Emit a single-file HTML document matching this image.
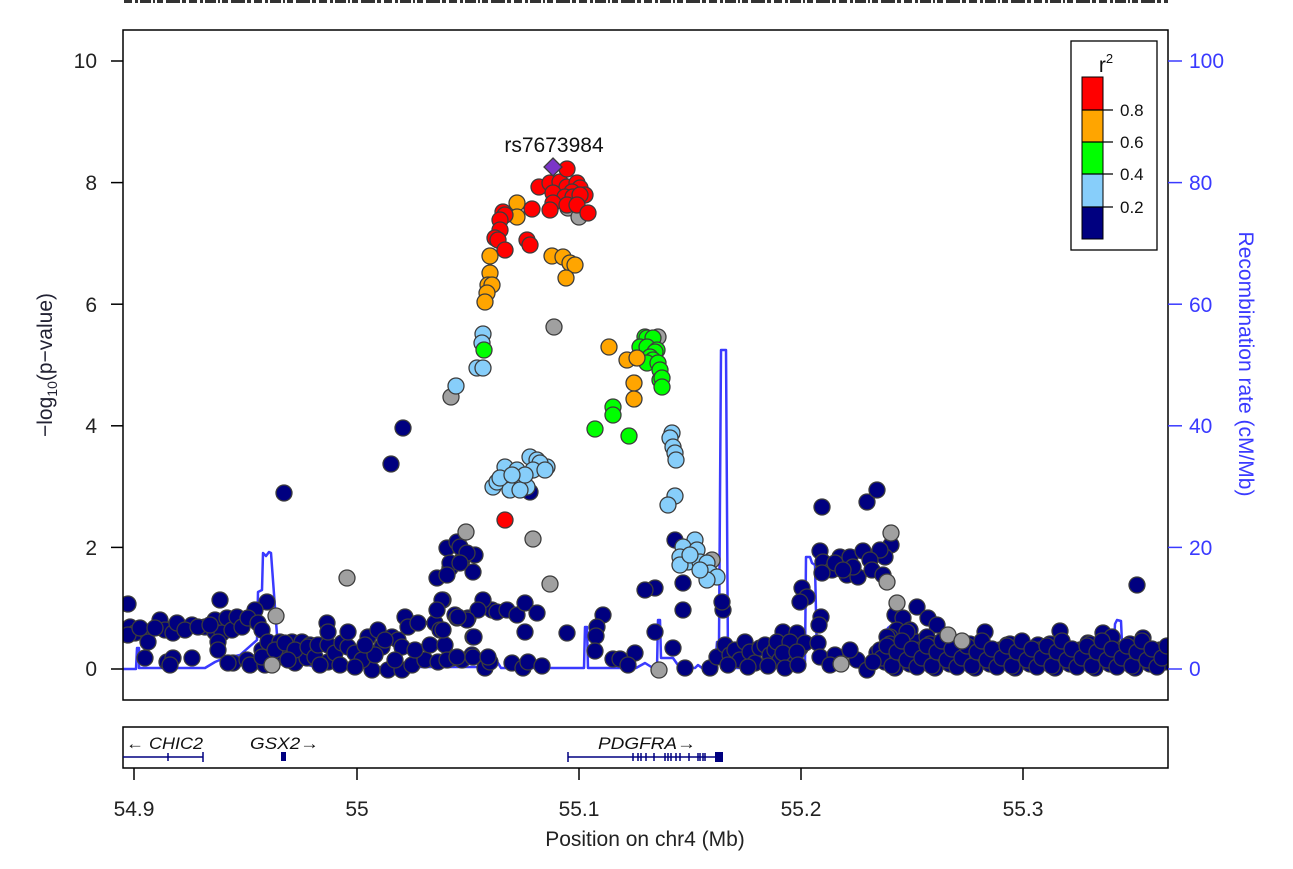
<!DOCTYPE html>
<html><head><meta charset="utf-8"><style>
html,body{margin:0;padding:0;background:#fff;}
svg{display:block;font-family:"Liberation Sans",Arial,sans-serif;}
</style></head><body>
<svg width="1293" height="869" viewBox="0 0 1293 869" xmlns="http://www.w3.org/2000/svg">
<rect width="1293" height="869" fill="#fff"/>
<!-- top garbled strip -->
<line x1="124" y1="1.5" x2="1168" y2="1.5" stroke="#333" stroke-width="3" stroke-dasharray="8 3 3 2 11 2 2 2 6 3 14 2 4 3"/>

<defs><clipPath id="pc"><rect x="123" y="30" width="1045" height="670"/></clipPath></defs>

<!-- recombination line -->
<polyline clip-path="url(#pc)" fill="none" stroke="#3a3aff" stroke-width="2.5" stroke-linejoin="round" points="123,669 136,669 137,648 139,648 139,668 205,668 215,662 222,659 240,655 257,640 258,592 262,590 263,553 266,556 269,552 271,553 277,635 290,642 305,664 315,667 480,667 490,663 498,663 501,668 584,668 585,627 587,627 588,668 636,668 645,663 653,668 657,668 658,620 660,620 661,658 673,658 680,668 695,668 698,665 702,668 715,668 717,642 719,642 721,350 726,350 728,665 733,668 800,668 805,662 806,557 810,557 812,563 815,565 817,660 830,662 868,660 877,648 888,628 893,624 897,640 905,660 930,665 1113,666 1115,624 1117,620 1121,621 1123,665 1168,667"/>

<g clip-path="url(#pc)" stroke="#3c3c3c" stroke-width="1.3">
<!-- navy -->
<g fill="#000080">
<circle cx="128" cy="604" r="8"/><circle cx="220" cy="600" r="8"/><circle cx="267" cy="602" r="8"/><circle cx="255" cy="610" r="8"/><circle cx="284" cy="493" r="8"/><circle cx="391" cy="464" r="8"/><circle cx="403" cy="428" r="8"/>
<circle cx="130" cy="627" r="8"/><circle cx="135" cy="633" r="8"/><circle cx="147" cy="632" r="8"/><circle cx="148" cy="642" r="8"/><circle cx="160" cy="620" r="8"/><circle cx="165" cy="630" r="8"/><circle cx="173" cy="633" r="8"/><circle cx="177" cy="623" r="8"/><circle cx="192" cy="625" r="8"/><circle cx="205" cy="627" r="8"/><circle cx="215" cy="620" r="8"/><circle cx="215" cy="632" r="8"/><circle cx="222" cy="633" r="8"/><circle cx="218" cy="642" r="8"/><circle cx="218" cy="650" r="8"/><circle cx="227" cy="618" r="8"/><circle cx="232" cy="630" r="8"/><circle cx="237" cy="617" r="8"/><circle cx="242" cy="627" r="8"/><circle cx="248" cy="618" r="8"/><circle cx="258" cy="623" r="8"/><circle cx="262" cy="630" r="8"/><circle cx="128" cy="635" r="8"/><circle cx="140" cy="628" r="8"/><circle cx="155" cy="628" r="8"/><circle cx="185" cy="630" r="8"/><circle cx="198" cy="627" r="8"/><circle cx="210" cy="625" r="8"/>
<circle cx="145" cy="658" r="8"/><circle cx="167" cy="662" r="8"/><circle cx="173" cy="658" r="8"/><circle cx="192" cy="658" r="8"/><circle cx="233" cy="663" r="8"/><circle cx="247" cy="660" r="8"/><circle cx="250" cy="665" r="8"/><circle cx="265" cy="665" r="8"/><circle cx="262" cy="650" r="8"/><circle cx="262" cy="657" r="8"/><circle cx="228" cy="663" r="8"/><circle cx="170" cy="665" r="8"/>
<circle cx="268" cy="642" r="8"/><circle cx="280" cy="642" r="8"/><circle cx="292" cy="642" r="8"/><circle cx="302" cy="642" r="8"/><circle cx="310" cy="645" r="8"/><circle cx="283" cy="657" r="8"/><circle cx="295" cy="663" r="8"/><circle cx="307" cy="658" r="8"/><circle cx="275" cy="650" r="8"/><circle cx="285" cy="643" r="8"/><circle cx="295" cy="650" r="8"/><circle cx="308" cy="647" r="8"/><circle cx="315" cy="657" r="8"/><circle cx="318" cy="645" r="8"/><circle cx="328" cy="645" r="8"/><circle cx="328" cy="662" r="8"/><circle cx="335" cy="653" r="8"/><circle cx="342" cy="643" r="8"/><circle cx="348" cy="647" r="8"/><circle cx="355" cy="653" r="8"/><circle cx="368" cy="637" r="8"/><circle cx="378" cy="630" r="8"/><circle cx="382" cy="647" r="8"/><circle cx="392" cy="637" r="8"/><circle cx="398" cy="640" r="8"/><circle cx="402" cy="647" r="8"/><circle cx="288" cy="660" r="8"/><circle cx="348" cy="632" r="8"/><circle cx="327" cy="623" r="8"/><circle cx="328" cy="632" r="8"/><circle cx="372" cy="670" r="8"/><circle cx="388" cy="670" r="8"/><circle cx="402" cy="670" r="8"/><circle cx="412" cy="665" r="8"/><circle cx="425" cy="660" r="8"/><circle cx="438" cy="662" r="8"/><circle cx="452" cy="658" r="8"/><circle cx="462" cy="660" r="8"/><circle cx="472" cy="655" r="8"/><circle cx="485" cy="660" r="8"/><circle cx="485" cy="668" r="8"/><circle cx="490" cy="662" r="8"/><circle cx="405" cy="617" r="8"/><circle cx="408" cy="627" r="8"/><circle cx="418" cy="623" r="8"/><circle cx="435" cy="623" r="8"/><circle cx="440" cy="630" r="8"/><circle cx="455" cy="615" r="8"/><circle cx="468" cy="618" r="8"/><circle cx="492" cy="610" r="8"/><circle cx="362" cy="660" r="8"/><circle cx="375" cy="655" r="8"/><circle cx="395" cy="660" r="8"/><circle cx="415" cy="650" r="8"/><circle cx="430" cy="645" r="8"/><circle cx="445" cy="645" r="8"/><circle cx="320" cy="665" r="8"/><circle cx="340" cy="665" r="8"/><circle cx="355" cy="667" r="8"/><circle cx="365" cy="645" r="8"/><circle cx="385" cy="640" r="8"/>
<circle cx="437" cy="578" r="8"/><circle cx="447" cy="548" r="8"/><circle cx="458" cy="542" r="8"/><circle cx="475" cy="555" r="8"/><circle cx="473" cy="572" r="8"/><circle cx="450" cy="568" r="8"/><circle cx="462" cy="560" r="8"/><circle cx="457" cy="542" r="8"/><circle cx="460" cy="547" r="8"/><circle cx="467" cy="553" r="8"/><circle cx="450" cy="563" r="8"/><circle cx="460" cy="563" r="8"/><circle cx="447" cy="575" r="8"/><circle cx="443" cy="600" r="8"/><circle cx="483" cy="600" r="8"/><circle cx="478" cy="610" r="8"/><circle cx="467" cy="620" r="8"/><circle cx="457" cy="618" r="8"/><circle cx="497" cy="612" r="8"/><circle cx="507" cy="610" r="8"/><circle cx="517" cy="615" r="8"/><circle cx="525" cy="603" r="8"/><circle cx="537" cy="613" r="8"/><circle cx="525" cy="632" r="8"/><circle cx="473" cy="637" r="8"/><circle cx="443" cy="630" r="8"/><circle cx="447" cy="660" r="8"/><circle cx="457" cy="657" r="8"/><circle cx="473" cy="657" r="8"/><circle cx="488" cy="657" r="8"/><circle cx="512" cy="663" r="8"/><circle cx="523" cy="668" r="8"/><circle cx="528" cy="662" r="8"/><circle cx="542" cy="666" r="8"/><circle cx="442" cy="600" r="8"/><circle cx="437" cy="610" r="8"/><circle cx="458" cy="617" r="8"/><circle cx="474" cy="637" r="8"/><circle cx="530" cy="492" r="8"/>
<circle cx="567" cy="633" r="8"/><circle cx="603" cy="615" r="8"/><circle cx="597" cy="627" r="8"/><circle cx="596" cy="636" r="8"/><circle cx="595" cy="651" r="8"/><circle cx="635" cy="653" r="8"/><circle cx="613" cy="659" r="8"/><circle cx="620" cy="659" r="8"/><circle cx="628" cy="665" r="8"/><circle cx="655" cy="588" r="8"/><circle cx="645" cy="590" r="8"/><circle cx="683" cy="583" r="8"/><circle cx="675" cy="540" r="8"/><circle cx="683" cy="610" r="8"/><circle cx="723" cy="610" r="8"/><circle cx="722" cy="602" r="8"/><circle cx="655" cy="632" r="8"/><circle cx="673" cy="648" r="8"/><circle cx="685" cy="668" r="8"/><circle cx="710" cy="668" r="8"/><circle cx="717" cy="657" r="8"/>
<circle cx="725" cy="645" r="8"/><circle cx="730" cy="655" r="8"/><circle cx="735" cy="650" r="8"/><circle cx="740" cy="660" r="8"/><circle cx="745" cy="642" r="8"/><circle cx="750" cy="652" r="8"/><circle cx="755" cy="663" r="8"/><circle cx="760" cy="648" r="8"/><circle cx="765" cy="645" r="8"/><circle cx="770" cy="655" r="8"/><circle cx="775" cy="650" r="8"/><circle cx="780" cy="660" r="8"/><circle cx="785" cy="642" r="8"/><circle cx="790" cy="652" r="8"/><circle cx="795" cy="663" r="8"/><circle cx="800" cy="648" r="8"/><circle cx="728" cy="665" r="8"/><circle cx="748" cy="667" r="8"/><circle cx="768" cy="666" r="8"/>
<circle cx="822" cy="507" r="8"/><circle cx="867" cy="502" r="8"/><circle cx="877" cy="490" r="8"/><circle cx="891" cy="545" r="8"/><circle cx="885" cy="557" r="8"/><circle cx="880" cy="550" r="8"/><circle cx="820" cy="551" r="8"/><circle cx="823" cy="562" r="8"/><circle cx="832" cy="570" r="8"/><circle cx="840" cy="557" r="8"/><circle cx="850" cy="557" r="8"/><circle cx="863" cy="551" r="8"/><circle cx="870" cy="560" r="8"/><circle cx="822" cy="573" r="8"/><circle cx="847" cy="575" r="8"/><circle cx="858" cy="577" r="8"/><circle cx="872" cy="570" r="8"/><circle cx="883" cy="575" r="8"/><circle cx="835" cy="563" r="8"/><circle cx="853" cy="567" r="8"/><circle cx="843" cy="570" r="8"/><circle cx="802" cy="588" r="8"/><circle cx="807" cy="597" r="8"/><circle cx="800" cy="602" r="8"/><circle cx="821" cy="617" r="8"/><circle cx="819" cy="625" r="8"/><circle cx="783" cy="632" r="8"/><circle cx="797" cy="633" r="8"/><circle cx="777" cy="642" r="8"/><circle cx="790" cy="642" r="8"/><circle cx="805" cy="643" r="8"/><circle cx="818" cy="643" r="8"/><circle cx="783" cy="653" r="8"/><circle cx="797" cy="652" r="8"/><circle cx="820" cy="657" r="8"/><circle cx="785" cy="668" r="8"/><circle cx="798" cy="665" r="8"/><circle cx="857" cy="660" r="8"/><circle cx="867" cy="670" r="8"/><circle cx="877" cy="653" r="8"/><circle cx="917" cy="607" r="8"/><circle cx="895" cy="615" r="8"/><circle cx="903" cy="618" r="8"/><circle cx="928" cy="618" r="8"/><circle cx="937" cy="625" r="8"/><circle cx="897" cy="630" r="8"/><circle cx="910" cy="630" r="8"/><circle cx="890" cy="637" r="8"/><circle cx="903" cy="642" r="8"/><circle cx="917" cy="642" r="8"/><circle cx="927" cy="637" r="8"/><circle cx="985" cy="632" r="8"/><circle cx="1060" cy="631" r="8"/><circle cx="1103" cy="633" r="8"/><circle cx="1112" cy="637" r="8"/><circle cx="1137" cy="585" r="8"/><circle cx="1143" cy="638" r="8"/><circle cx="1007" cy="645" r="8"/><circle cx="1018" cy="645" r="8"/><circle cx="1038" cy="645" r="8"/><circle cx="1088" cy="643" r="8"/><circle cx="1158" cy="652" r="8"/><circle cx="907" cy="632" r="8"/><circle cx="887" cy="637" r="8"/>
<circle cx="880" cy="650" r="8"/><circle cx="885" cy="662" r="8"/><circle cx="890" cy="644" r="8"/><circle cx="895" cy="668" r="8"/><circle cx="900" cy="656" r="8"/><circle cx="905" cy="647" r="8"/><circle cx="910" cy="664" r="8"/><circle cx="915" cy="653" r="8"/><circle cx="920" cy="650" r="8"/><circle cx="925" cy="662" r="8"/><circle cx="930" cy="644" r="8"/><circle cx="935" cy="668" r="8"/><circle cx="940" cy="656" r="8"/><circle cx="945" cy="647" r="8"/><circle cx="950" cy="664" r="8"/><circle cx="955" cy="653" r="8"/><circle cx="960" cy="650" r="8"/><circle cx="965" cy="662" r="8"/><circle cx="970" cy="644" r="8"/><circle cx="975" cy="668" r="8"/><circle cx="980" cy="656" r="8"/><circle cx="985" cy="647" r="8"/><circle cx="990" cy="664" r="8"/><circle cx="995" cy="653" r="8"/><circle cx="1000" cy="650" r="8"/><circle cx="1005" cy="662" r="8"/><circle cx="1010" cy="644" r="8"/><circle cx="1015" cy="668" r="8"/><circle cx="1020" cy="656" r="8"/><circle cx="1025" cy="647" r="8"/><circle cx="1030" cy="664" r="8"/><circle cx="1035" cy="653" r="8"/><circle cx="1040" cy="650" r="8"/><circle cx="1045" cy="662" r="8"/><circle cx="1050" cy="644" r="8"/><circle cx="1055" cy="668" r="8"/><circle cx="1060" cy="656" r="8"/><circle cx="1065" cy="647" r="8"/><circle cx="1070" cy="664" r="8"/><circle cx="1075" cy="653" r="8"/><circle cx="1080" cy="650" r="8"/><circle cx="1085" cy="662" r="8"/><circle cx="1090" cy="644" r="8"/><circle cx="1095" cy="668" r="8"/><circle cx="1100" cy="656" r="8"/><circle cx="1105" cy="647" r="8"/><circle cx="1110" cy="664" r="8"/><circle cx="1115" cy="653" r="8"/><circle cx="1120" cy="650" r="8"/><circle cx="1125" cy="662" r="8"/><circle cx="1130" cy="644" r="8"/><circle cx="1135" cy="668" r="8"/><circle cx="1140" cy="656" r="8"/><circle cx="1145" cy="647" r="8"/><circle cx="1150" cy="664" r="8"/><circle cx="1155" cy="653" r="8"/><circle cx="1160" cy="650" r="8"/><circle cx="1165" cy="662" r="8"/>
<circle cx="882" cy="658" r="8"/><circle cx="887" cy="646" r="8"/><circle cx="892" cy="666" r="8"/><circle cx="897" cy="652" r="8"/><circle cx="902" cy="641" r="8"/><circle cx="907" cy="660" r="8"/><circle cx="912" cy="649" r="8"/><circle cx="917" cy="667" r="8"/><circle cx="922" cy="658" r="8"/><circle cx="927" cy="646" r="8"/><circle cx="932" cy="666" r="8"/><circle cx="937" cy="652" r="8"/><circle cx="942" cy="641" r="8"/><circle cx="947" cy="660" r="8"/><circle cx="952" cy="649" r="8"/><circle cx="957" cy="667" r="8"/><circle cx="962" cy="658" r="8"/><circle cx="967" cy="646" r="8"/><circle cx="972" cy="666" r="8"/><circle cx="977" cy="652" r="8"/><circle cx="982" cy="641" r="8"/><circle cx="987" cy="660" r="8"/><circle cx="992" cy="649" r="8"/><circle cx="997" cy="667" r="8"/><circle cx="1002" cy="658" r="8"/><circle cx="1007" cy="646" r="8"/><circle cx="1012" cy="666" r="8"/><circle cx="1017" cy="652" r="8"/><circle cx="1022" cy="641" r="8"/><circle cx="1027" cy="660" r="8"/><circle cx="1032" cy="649" r="8"/><circle cx="1037" cy="667" r="8"/><circle cx="1042" cy="658" r="8"/><circle cx="1047" cy="646" r="8"/><circle cx="1052" cy="666" r="8"/><circle cx="1057" cy="652" r="8"/><circle cx="1062" cy="641" r="8"/><circle cx="1067" cy="660" r="8"/><circle cx="1072" cy="649" r="8"/><circle cx="1077" cy="667" r="8"/><circle cx="1082" cy="658" r="8"/><circle cx="1087" cy="646" r="8"/><circle cx="1092" cy="666" r="8"/><circle cx="1097" cy="652" r="8"/><circle cx="1102" cy="641" r="8"/><circle cx="1107" cy="660" r="8"/><circle cx="1112" cy="649" r="8"/><circle cx="1117" cy="667" r="8"/><circle cx="1122" cy="658" r="8"/><circle cx="1127" cy="646" r="8"/><circle cx="1132" cy="666" r="8"/><circle cx="1137" cy="652" r="8"/><circle cx="1142" cy="641" r="8"/><circle cx="1147" cy="660" r="8"/><circle cx="1152" cy="649" r="8"/><circle cx="1157" cy="667" r="8"/><circle cx="1162" cy="658" r="8"/><circle cx="1167" cy="646" r="8"/>
<circle cx="835" cy="655" r="8"/><circle cx="850" cy="650" r="8"/><circle cx="830" cy="665" r="8"/><circle cx="873" cy="662" r="8"/>
</g>
<!-- gray -->
<g fill="#a0a0a0">
<circle cx="568" cy="208" r="8"/><circle cx="579" cy="217" r="8"/><circle cx="554" cy="327" r="8"/><circle cx="451" cy="397" r="8"/><circle cx="658" cy="337" r="8"/><circle cx="466" cy="532" r="8"/><circle cx="533" cy="539" r="8"/><circle cx="550" cy="584" r="8"/><circle cx="347" cy="578" r="8"/><circle cx="276" cy="616" r="8"/><circle cx="272" cy="665" r="8"/><circle cx="659" cy="670" r="8"/><circle cx="712" cy="560" r="8"/><circle cx="891" cy="533" r="8"/><circle cx="887" cy="582" r="8"/><circle cx="897" cy="603" r="8"/><circle cx="948" cy="635" r="8"/><circle cx="962" cy="641" r="8"/><circle cx="841" cy="664" r="8"/>
</g>
<!-- light blue -->
<g fill="#87cefa">
<circle cx="483" cy="334" r="8"/><circle cx="482" cy="343" r="8"/><circle cx="477" cy="368" r="8"/><circle cx="483" cy="368" r="8"/><circle cx="456" cy="386" r="8"/>
<circle cx="493" cy="487" r="8"/><circle cx="505" cy="467" r="8"/><circle cx="517" cy="470" r="8"/><circle cx="530" cy="457" r="8"/><circle cx="537" cy="460" r="8"/><circle cx="547" cy="467" r="8"/><circle cx="527" cy="487" r="8"/><circle cx="507" cy="483" r="8"/><circle cx="517" cy="480" r="8"/><circle cx="497" cy="482" r="8"/><circle cx="510" cy="490" r="8"/><circle cx="520" cy="490" r="8"/><circle cx="540" cy="463" r="8"/><circle cx="533" cy="470" r="8"/><circle cx="500" cy="478" r="8"/><circle cx="525" cy="475" r="8"/><circle cx="545" cy="470" r="8"/><circle cx="512" cy="475" r="8"/>
<circle cx="672" cy="433" r="8"/><circle cx="670" cy="438" r="8"/><circle cx="673" cy="447" r="8"/><circle cx="675" cy="453" r="8"/><circle cx="676" cy="460" r="8"/><circle cx="675" cy="496" r="8"/><circle cx="668" cy="505" r="8"/>
<circle cx="695" cy="540" r="8"/><circle cx="683" cy="547" r="8"/><circle cx="697" cy="550" r="8"/><circle cx="680" cy="557" r="8"/><circle cx="688" cy="562" r="8"/><circle cx="700" cy="562" r="8"/><circle cx="707" cy="563" r="8"/><circle cx="680" cy="565" r="8"/><circle cx="710" cy="573" r="8"/><circle cx="717" cy="577" r="8"/><circle cx="707" cy="580" r="8"/><circle cx="690" cy="555" r="8"/><circle cx="700" cy="570" r="8"/>
</g>
<!-- green -->
<g fill="#00ff00">
<circle cx="484" cy="350" r="8"/><circle cx="645" cy="337" r="8"/><circle cx="647" cy="338" r="8"/><circle cx="653" cy="338" r="8"/><circle cx="640" cy="347" r="8"/><circle cx="647" cy="347" r="8"/><circle cx="657" cy="350" r="8"/><circle cx="655" cy="352" r="8"/><circle cx="650" cy="357" r="8"/><circle cx="653" cy="360" r="8"/><circle cx="647" cy="363" r="8"/><circle cx="658" cy="363" r="8"/><circle cx="660" cy="370" r="8"/><circle cx="660" cy="380" r="8"/><circle cx="662" cy="378" r="8"/><circle cx="662" cy="387" r="8"/><circle cx="613" cy="407" r="8"/><circle cx="613" cy="415" r="8"/><circle cx="595" cy="429" r="8"/><circle cx="629" cy="436" r="8"/>
</g>
<!-- orange -->
<g fill="#ffa500">
<circle cx="517" cy="203" r="8"/><circle cx="517" cy="217" r="8"/><circle cx="490" cy="256" r="8"/><circle cx="490" cy="273" r="8"/><circle cx="488" cy="285" r="8"/><circle cx="492" cy="285" r="8"/><circle cx="487" cy="293" r="8"/><circle cx="485" cy="302" r="8"/><circle cx="552" cy="256" r="8"/><circle cx="563" cy="257" r="8"/><circle cx="570" cy="263" r="8"/><circle cx="575" cy="265" r="8"/><circle cx="566" cy="278" r="8"/><circle cx="609" cy="347" r="8"/><circle cx="627" cy="360" r="8"/><circle cx="637" cy="358" r="8"/><circle cx="634" cy="383" r="8"/><circle cx="634" cy="399" r="8"/>
</g>
<!-- red -->
<g fill="#ff0000">
<circle cx="539" cy="187" r="8"/><circle cx="550" cy="183" r="8"/><circle cx="560" cy="182" r="8"/><circle cx="567" cy="187" r="8"/><circle cx="577" cy="183" r="8"/><circle cx="580" cy="188" r="8"/><circle cx="572" cy="192" r="8"/><circle cx="585" cy="195" r="8"/><circle cx="553" cy="193" r="8"/><circle cx="565" cy="197" r="8"/><circle cx="573" cy="197" r="8"/><circle cx="580" cy="195" r="8"/><circle cx="553" cy="203" r="8"/><circle cx="550" cy="210" r="8"/><circle cx="567" cy="205" r="8"/><circle cx="577" cy="205" r="8"/><circle cx="588" cy="213" r="8"/><circle cx="532" cy="209" r="8"/><circle cx="503" cy="212" r="8"/><circle cx="505" cy="215" r="8"/><circle cx="500" cy="220" r="8"/><circle cx="500" cy="230" r="8"/><circle cx="495" cy="238" r="8"/><circle cx="498" cy="240" r="8"/><circle cx="527" cy="240" r="8"/><circle cx="530" cy="245" r="8"/><circle cx="505" cy="250" r="8"/><circle cx="567" cy="169" r="8"/><circle cx="505" cy="520" r="8"/>
</g>
<!-- purple diamond -->
<polygon points="553,158 562,167 553,176 544,167" fill="#7b35c8"/>
</g>

<!-- plot frame -->
<rect x="123" y="30" width="1045" height="670" fill="none" stroke="#000" stroke-width="1.5"/>

<!-- left axis -->
<g stroke="#000" stroke-width="1.5">
<line x1="111" y1="669" x2="123" y2="669"/><line x1="111" y1="547.4" x2="123" y2="547.4"/><line x1="111" y1="425.8" x2="123" y2="425.8"/><line x1="111" y1="304.2" x2="123" y2="304.2"/><line x1="111" y1="182.6" x2="123" y2="182.6"/><line x1="111" y1="61" x2="123" y2="61"/>
</g>
<g font-size="21" fill="#222" text-anchor="end">
<text x="97" y="676">0</text><text x="97" y="555">2</text><text x="97" y="433">4</text><text x="97" y="312">6</text><text x="97" y="190">8</text><text x="97" y="68">10</text>
</g>
<text transform="translate(52,365) rotate(-90)" text-anchor="middle" font-size="21" fill="#223">−log<tspan font-size="14" dy="5">10</tspan><tspan dy="-5">(p−value)</tspan></text>

<!-- right axis -->
<g stroke="#3a3aff" stroke-width="1.5">
<line x1="1168" y1="669" x2="1182" y2="669"/><line x1="1168" y1="547.4" x2="1182" y2="547.4"/><line x1="1168" y1="425.8" x2="1182" y2="425.8"/><line x1="1168" y1="304.2" x2="1182" y2="304.2"/><line x1="1168" y1="182.6" x2="1182" y2="182.6"/><line x1="1168" y1="61" x2="1182" y2="61"/>
</g>
<g font-size="21" fill="#3a3aff">
<text x="1189" y="676">0</text><text x="1189" y="555">20</text><text x="1189" y="433">40</text><text x="1189" y="312">60</text><text x="1189" y="190">80</text><text x="1189" y="68">100</text>
</g>
<text transform="translate(1239,364) rotate(90)" text-anchor="middle" font-size="21" fill="#3a3aff">Recombination rate (cM/Mb)</text>

<!-- rs label -->
<text x="554" y="152" text-anchor="middle" font-size="21" fill="#111">rs7673984</text>

<!-- legend -->
<rect x="1071" y="41" width="86" height="209" fill="#fff" stroke="#000" stroke-width="1.3"/>
<text x="1106" y="72" font-size="21" fill="#111" text-anchor="middle">r<tspan font-size="13" dy="-9">2</tspan></text>
<rect x="1082" y="77" width="21" height="33" fill="#ff0000"/>
<rect x="1082" y="110" width="21" height="32" fill="#ffa500"/>
<rect x="1082" y="142" width="21" height="32" fill="#00ff00"/>
<rect x="1082" y="174" width="21" height="33" fill="#87cefa"/>
<rect x="1082" y="207" width="21" height="32" fill="#000080"/>
<rect x="1082" y="77" width="21" height="162" fill="none" stroke="#000" stroke-width="1"/>
<g stroke="#000" stroke-width="1.2">
<line x1="1082" y1="110" x2="1113" y2="110"/><line x1="1082" y1="142" x2="1113" y2="142"/><line x1="1082" y1="174" x2="1113" y2="174"/><line x1="1082" y1="207" x2="1113" y2="207"/>
</g>
<g font-size="17" fill="#111">
<text x="1120" y="116">0.8</text><text x="1120" y="148">0.6</text><text x="1120" y="180">0.4</text><text x="1120" y="213">0.2</text>
</g>

<!-- gene panel -->
<rect x="123" y="727" width="1045" height="41" fill="none" stroke="#000" stroke-width="1.5"/>
<g font-size="17" font-style="italic" fill="#111">
<text x="126" y="749" textLength="77" lengthAdjust="spacingAndGlyphs">← CHIC2</text>
<text x="250" y="749" textLength="69" lengthAdjust="spacingAndGlyphs">GSX2→</text>
<text x="598" y="749" textLength="98" lengthAdjust="spacingAndGlyphs">PDGFRA→</text>
</g>
<g stroke="#000080" stroke-width="1.5" fill="#000080">
<line x1="123" y1="757" x2="203" y2="757"/>
<line x1="168" y1="753" x2="168" y2="761"/><line x1="203" y1="752" x2="203" y2="762"/>
<rect x="281" y="752" width="5" height="9" stroke="none"/>
<line x1="568" y1="757" x2="723" y2="757"/>
<line x1="568" y1="752" x2="568" y2="762"/>
<line x1="633" y1="753" x2="633" y2="761"/><line x1="638" y1="753" x2="638" y2="761"/><line x1="641" y1="753" x2="641" y2="761"/><line x1="646" y1="753" x2="646" y2="761"/><line x1="654" y1="753" x2="654" y2="761"/><line x1="665" y1="753" x2="665" y2="761"/><line x1="668" y1="753" x2="668" y2="761"/><line x1="671" y1="753" x2="671" y2="761"/><line x1="676" y1="753" x2="676" y2="761"/><line x1="680" y1="753" x2="680" y2="761"/><line x1="689" y1="753" x2="689" y2="761"/><line x1="698" y1="753" x2="698" y2="761"/><line x1="700" y1="753" x2="700" y2="761"/><line x1="703" y1="753" x2="703" y2="761"/><line x1="705" y1="753" x2="705" y2="761"/>
<rect x="715" y="752" width="8" height="10" stroke="none"/>
</g>

<!-- x axis -->
<g stroke="#000" stroke-width="1.5">
<line x1="134" y1="768" x2="134" y2="780"/><line x1="357" y1="768" x2="357" y2="780"/><line x1="579" y1="768" x2="579" y2="780"/><line x1="801" y1="768" x2="801" y2="780"/><line x1="1023" y1="768" x2="1023" y2="780"/>
</g>
<g font-size="21" fill="#222" text-anchor="middle">
<text x="134" y="816">54.9</text><text x="357" y="816">55</text><text x="579" y="816">55.1</text><text x="801" y="816">55.2</text><text x="1023" y="816">55.3</text>
</g>
<text x="645" y="846" text-anchor="middle" font-size="21" fill="#222">Position on chr4 (Mb)</text>
</svg>
</body></html>
